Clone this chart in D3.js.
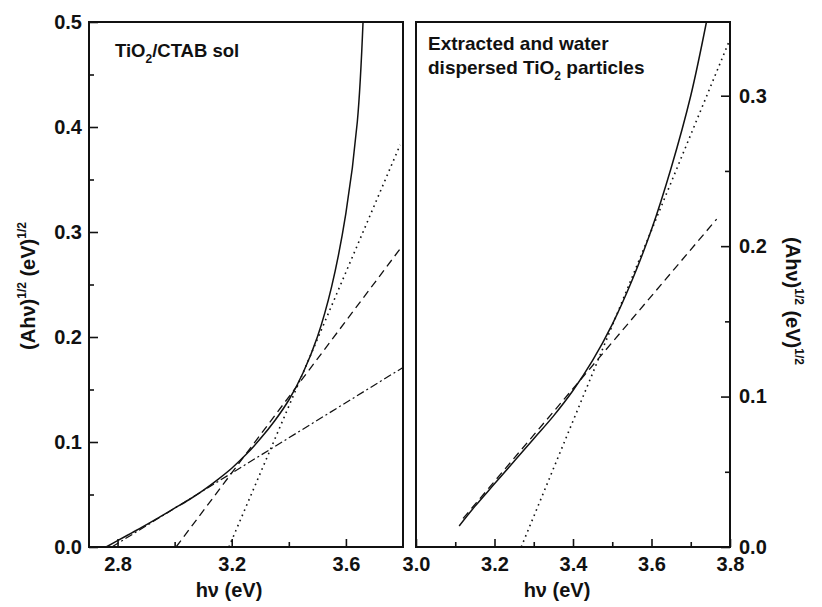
<!DOCTYPE html>
<html>
<head>
<meta charset="utf-8">
<script src="https://cdn.jsdelivr.net/npm/d3@7"></script>
<style>
  body { margin: 0; background: #fff; }
  text { font-family: "Liberation Sans", Arial, sans-serif; font-weight: bold; fill: #111; }
</style>
</head>
<body>
<svg width="822" height="607"></svg>
<script>
// left panel: TiO2/CTAB sol
var leftHv    = [2.76, 2.80, 2.85, 2.90, 2.95, 3.00, 3.05, 3.10, 3.15, 3.20, 3.25, 3.30, 3.35, 3.40, 3.45, 3.50, 3.55, 3.60, 3.64, 3.66];
var leftCurve = [0, 0.006, 0.0135, 0.021, 0.029, 0.037, 0.045, 0.054, 0.064, 0.075, 0.088, 0.103, 0.120, 0.140, 0.166, 0.200, 0.248, 0.318, 0.405, 0.50];
var leftDottedHv = [3.19, 3.79],  leftDotted = [0, 0.383];
var leftDashedHv = [3.005, 3.79], leftDashed = [0, 0.284];
var leftDashDotHv = [2.78, 3.80], leftDashDot = [0, 0.171];

// right panel: extracted and water dispersed particles
var rightHv    = [3.11, 3.15, 3.20, 3.25, 3.30, 3.35, 3.40, 3.45, 3.50, 3.55, 3.60, 3.65, 3.70, 3.74];
var rightCurve = [0.014, 0.027, 0.042, 0.057, 0.072, 0.087, 0.104, 0.124, 0.148, 0.177, 0.211, 0.252, 0.300, 0.349];
var rightDottedHv = [3.268, 3.796], rightDotted = [0, 0.335];
var rightDashedHv = [3.12, 3.766],  rightDashed = [0.019, 0.218];

var leftXMajor = [2.8, 3.2, 3.6], leftXMinor = [3.0, 3.4];
var leftYMajor = [0, 0.1, 0.2, 0.3, 0.4, 0.5], leftYMinor = [0.05, 0.15, 0.25, 0.35, 0.45];
var rightXMajor = [3.0, 3.2, 3.4, 3.6, 3.8], rightXMinor = [3.1, 3.3, 3.5, 3.7];
var rightYMajor = [0, 0.1, 0.2, 0.3], rightYMinor = [0.05, 0.15, 0.25];

var svg = d3.select("svg");
var fmt = d3.format(".1f");
var plotTop = 22, plotBottom = 547;

var xL = d3.scaleLinear().domain([2.7, 3.8]).range([89, 403]);
var yL = d3.scaleLinear().domain([0, 0.5]).range([plotBottom, plotTop]);
var xR = d3.scaleLinear().domain([3.0, 3.8]).range([416, 730]);
var yR = d3.scaleLinear().domain([0, 0.349]).range([plotBottom, plotTop]);

function styleAxis(g) {
    g.select(".domain").remove();
    g.selectAll("line").attr("stroke", "#111").attr("stroke-width", 1.6);
    g.selectAll("text").attr("font-size", 20).attr("font-family", null);
}

// bottom axes
[[xL, leftXMajor, leftXMinor], [xR, rightXMajor, rightXMinor]].forEach(function(a) {
    svg.append("g").attr("transform", "translate(0," + plotBottom + ")")
        .call(d3.axisBottom(a[0]).tickValues(a[2]).tickSize(-5).tickFormat(""))
        .call(styleAxis);
    svg.append("g").attr("transform", "translate(0," + plotBottom + ")")
        .call(d3.axisBottom(a[0]).tickValues(a[1]).tickSize(-8).tickPadding(10).tickFormat(fmt))
        .call(styleAxis);
});

// left y axis
svg.append("g").attr("transform", "translate(89,0)")
    .call(d3.axisLeft(yL).tickValues(leftYMinor).tickSize(-5).tickFormat(""))
    .call(styleAxis);
svg.append("g").attr("transform", "translate(89,0)")
    .call(d3.axisLeft(yL).tickValues(leftYMajor).tickSize(-9).tickPadding(7).tickFormat(fmt))
    .call(styleAxis);

// right y axis
svg.append("g").attr("transform", "translate(730,0)")
    .call(d3.axisRight(yR).tickValues(rightYMinor).tickSize(-5).tickFormat(""))
    .call(styleAxis);
svg.append("g").attr("transform", "translate(730,0)")
    .call(d3.axisRight(yR).tickValues(rightYMajor).tickSize(-9).tickPadding(9).tickFormat(fmt))
    .call(styleAxis);

// frames
[xL, xR].forEach(function(s) {
    var r = s.range();
    svg.append("rect")
        .attr("x", r[0]).attr("y", plotTop)
        .attr("width", r[1] - r[0]).attr("height", plotBottom - plotTop)
        .attr("fill", "none").attr("stroke", "#111").attr("stroke-width", 2);
});

function drawLine(xs, ys, xScale, yScale, dash, width, curve) {
    var pts = xs.map(function(d, i) { return [d, ys[i]]; });
    var line = d3.line()
        .x(function(d) { return xScale(d[0]); })
        .y(function(d) { return yScale(d[1]); })
        .curve(curve || d3.curveLinear);
    svg.append("path")
        .attr("d", line(pts))
        .attr("fill", "none")
        .attr("stroke", "#111")
        .attr("stroke-width", width)
        .attr("stroke-dasharray", dash);
}

drawLine(leftDashDotHv, leftDashDot, xL, yL, "8,3,2,3", 1.2);
drawLine(leftDashedHv, leftDashed, xL, yL, "8,5", 1.3);
drawLine(leftDottedHv, leftDotted, xL, yL, "1.6,4", 1.6);
drawLine(leftHv, leftCurve, xL, yL, null, 1.5, d3.curveCatmullRom);

drawLine(rightDashedHv, rightDashed, xR, yR, "8,5", 1.3);
drawLine(rightDottedHv, rightDotted, xR, yR, "1.6,4", 1.6);
drawLine(rightHv, rightCurve, xR, yR, null, 1.5, d3.curveCatmullRom);

// panel titles
var t1 = svg.append("text").attr("x", 115).attr("y", 57).attr("font-size", 18.5);
t1.append("tspan").text("TiO");
t1.append("tspan").attr("font-size", 12).attr("dy", 6).text("2");
t1.append("tspan").attr("dy", -6).text("/CTAB sol");

svg.append("text").attr("x", 428).attr("y", 50).attr("font-size", 19).text("Extracted and water");
var t2 = svg.append("text").attr("x", 428).attr("y", 74).attr("font-size", 19);
t2.append("tspan").text("dispersed TiO");
t2.append("tspan").attr("font-size", 12).attr("dy", 6).text("2");
t2.append("tspan").attr("dy", -6).text(" particles");

// axis titles
[229, 557].forEach(function(cx) {
    svg.append("text").attr("x", cx).attr("y", 597).attr("font-size", 20)
        .attr("text-anchor", "middle").text("h\u03bd (eV)");
});

function yTitle(x, y, angle) {
    var t = svg.append("text")
        .attr("transform", "translate(" + x + "," + y + ") rotate(" + angle + ")")
        .attr("text-anchor", "middle").attr("font-size", 20);
    t.append("tspan").text("(Ah\u03bd)");
    t.append("tspan").attr("font-size", 12).attr("dy", -9).text("1/2");
    t.append("tspan").attr("dy", 9).text(" (eV)");
    t.append("tspan").attr("font-size", 12).attr("dy", -9).text("1/2");
}
yTitle(35, 286, -90);
yTitle(786, 301, 90);
</script>
</body>
</html>
